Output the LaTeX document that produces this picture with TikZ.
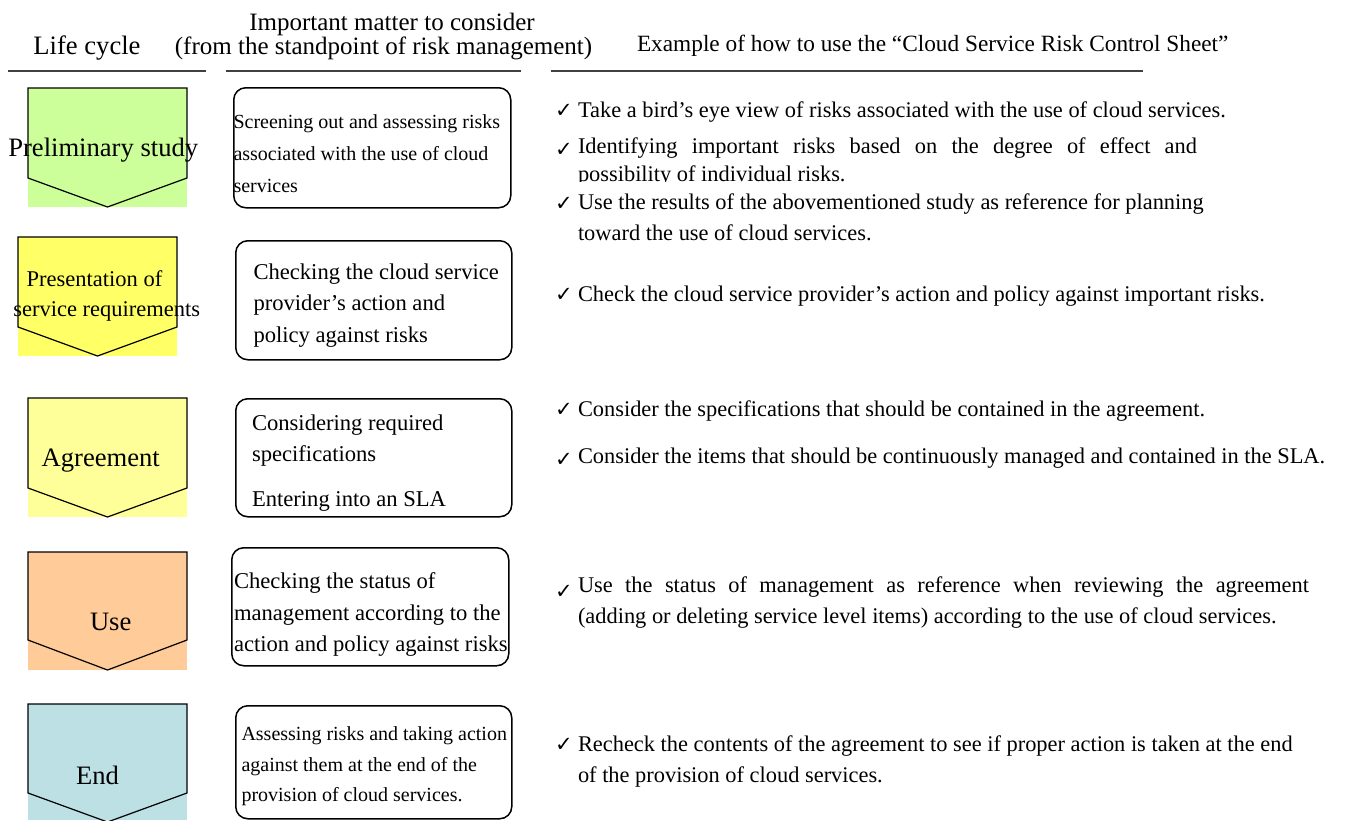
\documentclass[tikz,border=0pt]{standalone}
\usepackage{fontspec}
\setmainfont{Liberation Serif}
\newfontfamily\symfont{DejaVu Sans}

\definecolor{stgreen}{HTML}{CCFF99}
\definecolor{styellow}{HTML}{FFFF66}
\definecolor{stlight}{HTML}{FFFF99}
\definecolor{storange}{HTML}{FFCC99}
\definecolor{stcyan}{HTML}{BCE0E4}
\definecolor{rulegray}{HTML}{404040}

\newcommand\fs[1]{\fontsize{#1}{#1}\selectfont}
% one life-cycle stage: colour, left, right, top, end of sides, tip, bottom of fill
\newcommand\lcstage[7]{%
  \fill[#1] (#2,#4) rectangle (#3,#7);
  \draw[stageline] (#2,#5) -- (#2,#4) -- (#3,#4) -- (#3,#5) -- ({(#2+#3)/2},#6) -- cycle;
}
\newcommand\chk{{\symfont\fs{21}✓}}

\tikzset{
  rule/.style={line width=2pt, draw=rulegray},
  stageline/.style={draw=black, line width=1.2pt, line join=miter},
  mbox/.style={draw=black, line width=1.5pt, rounded corners=12pt, anchor=north west,
               inner sep=0pt, fill=white},
  txt/.style={anchor=base west, inner sep=0pt, outer sep=0pt},
  head/.style={anchor=base, inner sep=0pt, font=\fs{25}},
  stagetxt/.style={txt, font=\fs{26.6}},
  stagesmall/.style={txt, font=\fs{22.5}},
  boxbig/.style={txt, font=\fs{22.6}},
  boxsmall/.style={txt, font=\fs{20}},
  note/.style={txt, font=\fs{22.4}},
  tick/.style={txt},
}

\begin{document}
\begin{tikzpicture}[x=1pt,y=-1pt]
\useasboundingbox (0,0) rectangle (1345,820);

% ---------- column headings ----------
\node[head, font=\fs{26.6}] (hLife) at (87,54) {Life cycle};
\node[head] (hImp1) at (392,30.5) {Important matter to consider};
\node[head] (hImp2) at (383.5,54) {(from the standpoint of risk management)};
\node[txt, font=\fs{23.3}] (hEx) at (637,51) {Example of how to use the “Cloud Service Risk Control Sheet”};

\draw[rule] (8,71) -- (206,71);
\draw[rule] (226,71) -- (521,71);
\draw[rule] (551,71) -- (1143,71);

% ---------- life-cycle stages ----------
\lcstage{stgreen}{28}{187}{88}{178}{207}{207}
\lcstage{styellow}{18}{177}{237}{327}{356}{356}
\lcstage{stlight}{28}{187}{398}{488}{517}{517}
\lcstage{storange}{28}{187}{552}{640}{670}{670}
\lcstage{stcyan}{28}{187}{704}{793}{822}{820}

\node[stagetxt] (sPre) at (8.3,156) {Preliminary study};
\node[stagesmall] (sReq1) at (26.7,286) {Presentation of};
\node[stagesmall] (sReq2) at (13.3,316.7) {service requirements};
\node[stagetxt] (sAgr) at (41.7,466) {Agreement};
\node[stagetxt] (sUse) at (90,630.7) {Use};
\node[stagetxt] (sEnd) at (76,784) {End};

% ---------- matters to consider ----------
\node[mbox, minimum width=277pt, minimum height=120pt] (m1) at (233,87) {};
\node[boxsmall] (m1a) at (233.5,128) {Screening out and assessing risks};
\node[boxsmall] (m1b) at (233.5,160) {associated with the use of cloud};
\node[boxsmall] (m1c) at (233.5,192) {services};

\node[mbox, minimum width=276pt, minimum height=119pt] (m2) at (235,240) {};
\node[boxbig] (m2a) at (253.5,279) {Checking the cloud service};
\node[boxbig] (m2b) at (253.5,310.5) {provider’s action and};
\node[boxbig] (m2c) at (253.5,342) {policy against risks};

\node[mbox, minimum width=276pt, minimum height=118pt] (m3) at (235,398) {};
\node[boxbig] (m3a) at (252,430) {Considering required};
\node[boxbig] (m3b) at (252,461) {specifications};
\node[boxbig] (m3c) at (252,506.5) {Entering into an SLA};

\node[mbox, minimum width=277pt, minimum height=118pt] (m4) at (231,547) {};
\node[boxbig] (m4a) at (234,588.3) {Checking the status of};
\node[boxbig] (m4b) at (234,620) {management according to the};
\node[boxbig] (m4c) at (234,651.7) {action and policy against risks};

\node[mbox, minimum width=276pt, minimum height=113pt] (m5) at (235,705) {};
\node[boxsmall] (m5a) at (241.5,740) {Assessing risks and taking action};
\node[boxsmall] (m5b) at (241.5,771.5) {against them at the end of the};
\node[boxsmall] (m5c) at (241.5,801.5) {provision of cloud services.};

% ---------- examples of use ----------
\node[tick] (k1) at (555,117) {\chk};
\node[note] (e1) at (578,117) {Take a bird’s eye view of risks associated with the use of cloud services.};
\node[tick] (k2) at (555,156) {\chk};
\node[note] (e2) at (578,153) {\makebox[619pt][s]{Identifying important risks based on the degree of effect and}};
\begin{scope}
  \clip (560,150) rectangle (1300,181.5);
  \node[note] (e3) at (578,181) {possibility of individual risks.};
\end{scope}
\node[tick] (k3) at (555,210) {\chk};
\node[note] (e4) at (578,209) {Use the results of the abovementioned study as reference for planning};
\node[note] (e5) at (578,240) {toward the use of cloud services.};

\node[tick] (k4) at (555,301) {\chk};
\node[note] (e6) at (578,301) {Check the cloud service provider’s action and policy against important risks.};

\node[tick] (k5) at (555,416) {\chk};
\node[note] (e7) at (578,416) {Consider the specifications that should be contained in the agreement.};
\node[tick] (k6) at (555,466) {\chk};
\node[note] (e8) at (578,463) {Consider the items that should be continuously managed and contained in the SLA.};

\node[tick] (k7) at (555,598) {\chk};
\node[note] (e9) at (578,592) {\makebox[731pt][s]{Use the status of management as reference when reviewing the agreement}};
\node[note] (e10) at (578,623) {(adding or deleting service level items) according to the use of cloud services.};

\node[tick] (k8) at (555,751) {\chk};
\node[note] (e11) at (578,751) {Recheck the contents of the agreement to see if proper action is taken at the end};
\node[note] (e12) at (578,782) {of the provision of cloud services.};
\end{tikzpicture}
\end{document}
